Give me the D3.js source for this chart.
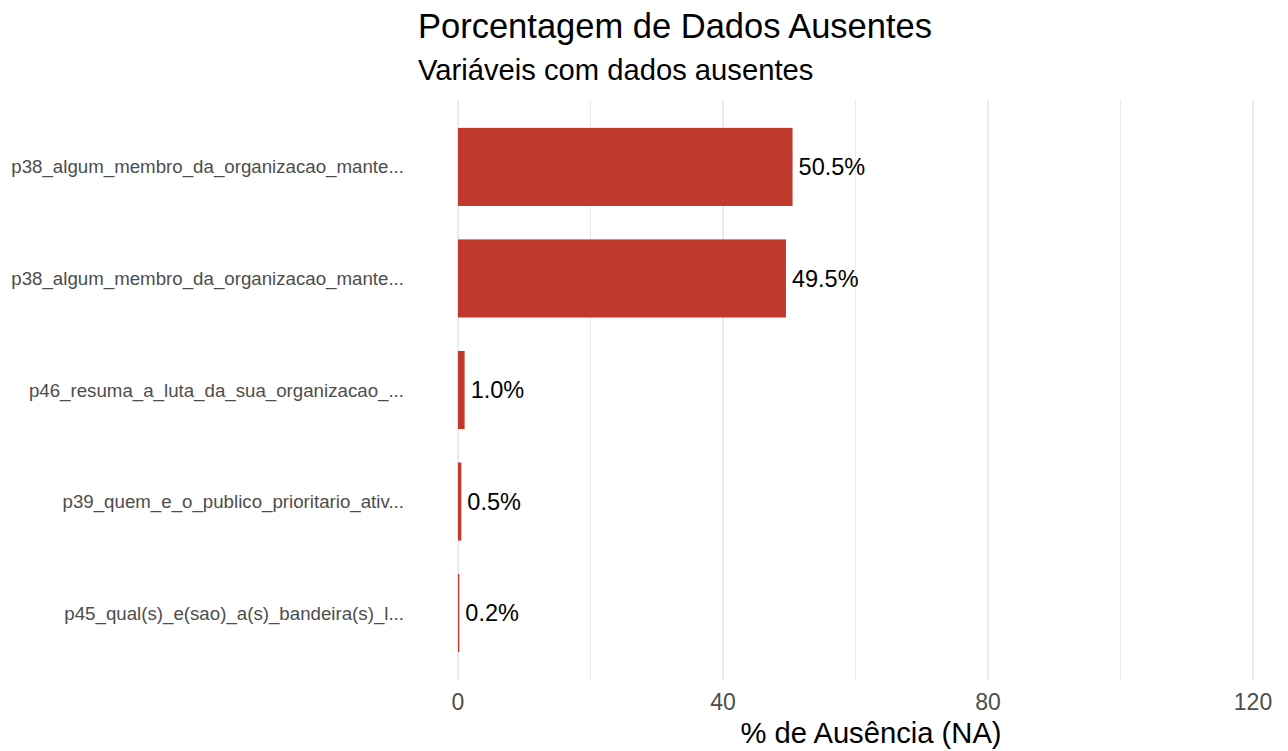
<!DOCTYPE html>
<html>
<head>
<meta charset="utf-8">
<script src="https://cdn.jsdelivr.net/npm/d3@7"></script>
<style>
  html, body { margin: 0; padding: 0; background: #fff; }
  svg { display: block; font-family: "Liberation Sans", Arial, Helvetica, sans-serif; }
</style>
</head>
<body>
<svg id="chart" width="1288" height="751"></svg>
<script>
const categories = [
  "p38_algum_membro_da_organizacao_mante...",
  "p38_algum_membro_da_organizacao_mante...",
  "p46_resuma_a_luta_da_sua_organizacao_...",
  "p39_quem_e_o_publico_prioritario_ativ...",
  "p45_qual(s)_e(sao)_a(s)_bandeira(s)_l..."
];
const values = [50.5, 49.5, 1.0, 0.5, 0.2];
const labels = ["50.5%", "49.5%", "1.0%", "0.5%", "0.2%"];
const majorTicks = [0, 40, 80, 120];
const minorTicks = [20, 60, 100];
const titleText = "Porcentagem de Dados Ausentes";
const subtitleText = "Variáveis com dados ausentes";
const xTitle = "% de Ausência (NA)";

const svg = d3.select("#chart");
const panel = { left: 418, right: 1281, top: 100, bottom: 680 };

const x = d3.scaleLinear().domain([0, 120]).range([458, 1253]);

const ids = categories.map((c, i) => i);
const y = d3.scaleBand().domain(ids)
  .range([panel.top, panel.bottom])
  .paddingInner(0.3).paddingOuter(0.25);

const g = svg.append("g");
g.selectAll("line.minor").data(minorTicks).enter().append("line")
  .attr("x1", d => x(d)).attr("x2", d => x(d))
  .attr("y1", panel.top).attr("y2", panel.bottom)
  .attr("stroke", "#ebebeb").attr("stroke-width", 1);
g.selectAll("line.major").data(majorTicks).enter().append("line")
  .attr("x1", d => x(d)).attr("x2", d => x(d))
  .attr("y1", panel.top).attr("y2", panel.bottom)
  .attr("stroke", "#ebebeb").attr("stroke-width", 2);

svg.append("g").selectAll("rect").data(values).enter().append("rect")
  .attr("x", x(0))
  .attr("y", (d, i) => y(i))
  .attr("width", d => x(d) - x(0))
  .attr("height", y.bandwidth())
  .attr("fill", "#C0392B");

svg.append("g").selectAll("text").data(values).enter().append("text")
  .attr("x", d => x(d) + 6)
  .attr("y", (d, i) => y(i) + y.bandwidth() / 2)
  .attr("dy", "0.35em")
  .attr("font-size", 23.5)
  .attr("fill", "#000")
  .text((d, i) => labels[i]);

svg.append("g").selectAll("text").data(categories).enter().append("text")
  .attr("x", 404)
  .attr("y", (d, i) => y(i) + y.bandwidth() / 2)
  .attr("dy", "0.35em")
  .attr("text-anchor", "end")
  .attr("font-size", 18.7)
  .attr("fill", "#4d4d4d")
  .text(d => d);

svg.append("g").selectAll("text").data(majorTicks).enter().append("text")
  .attr("x", d => x(d))
  .attr("y", 710)
  .attr("text-anchor", "middle")
  .attr("font-size", 23)
  .attr("fill", "#4d4d4d")
  .text(d => d);

svg.append("text")
  .attr("x", 871).attr("y", 743)
  .attr("text-anchor", "middle")
  .attr("font-size", 29.2)
  .attr("fill", "#000")
  .text(xTitle);

svg.append("text")
  .attr("x", 418).attr("y", 38)
  .attr("font-size", 34.5)
  .attr("fill", "#000")
  .text(titleText);
svg.append("text")
  .attr("x", 418).attr("y", 80)
  .attr("font-size", 29.2)
  .attr("fill", "#000")
  .text(subtitleText);
</script>
</body>
</html>
